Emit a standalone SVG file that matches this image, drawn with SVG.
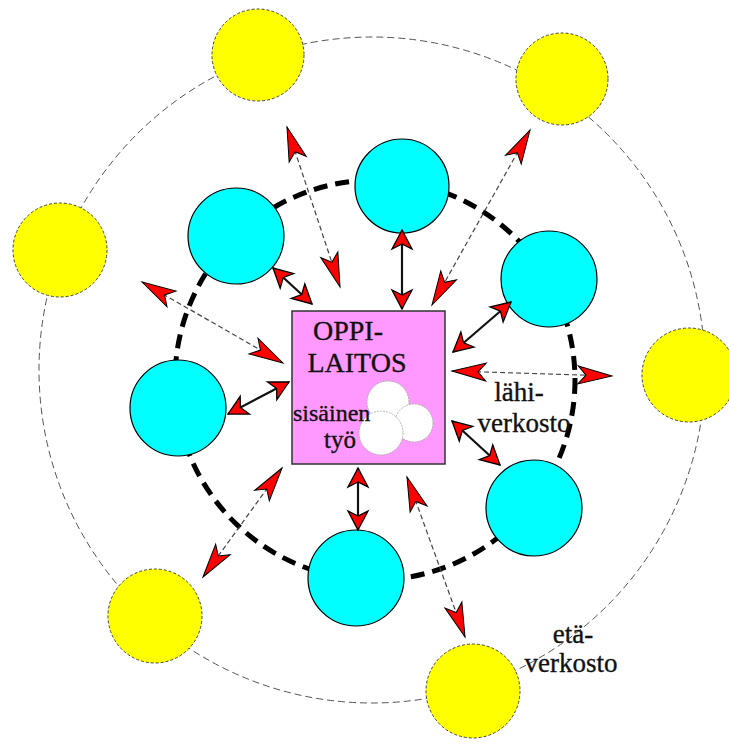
<svg xmlns="http://www.w3.org/2000/svg" width="729" height="747" viewBox="0 0 729 747">
<defs>
<style>
.ring-outer{fill:none;stroke:#555;stroke-width:1;stroke-dasharray:7 4}
.ring-inner{fill:none;stroke:#000;stroke-width:5;stroke-dasharray:14 8}
.yellow{fill:#ffff00;stroke:#444;stroke-width:1;stroke-dasharray:3 2}
.cyan{fill:#00ffff;stroke:#000;stroke-width:1.2}
.box{fill:#ff99ff;stroke:#333;stroke-width:1.5}
.blob{fill:#fff;stroke:#9a9;stroke-width:0.8;stroke-dasharray:2 1}
.txt{font-family:"Liberation Serif","Times New Roman",serif;fill:#111;stroke:#111;stroke-width:0.35}
.solid{stroke:#111;stroke-width:2.2;fill:none;marker-start:url(#hb);marker-end:url(#hb)}
.dash{stroke:#444;stroke-width:1.2;stroke-dasharray:5 3;fill:none;marker-start:url(#hr);marker-end:url(#hr)}
</style>
<marker id="hb" viewBox="-21 -12 23 24" refX="0" refY="0" markerWidth="23" markerHeight="24" markerUnits="userSpaceOnUse" orient="auto-start-reverse">
<path d="M0,0 L-19,-10 L-14,0 L-19,10 Z" fill="#ff0000" stroke="#000" stroke-width="1.3" stroke-dasharray="none"/>
</marker>
<marker id="hr" viewBox="-36 -11 38 22" refX="0" refY="0" markerWidth="38" markerHeight="22" markerUnits="userSpaceOnUse" orient="auto-start-reverse">
<path d="M0,0 L-34,-9 L-26,0 L-34,9 Z" fill="#ff0000" stroke="#000" stroke-width="1" stroke-dasharray="none"/>
</marker>
</defs>
<rect width="729" height="747" fill="#fff"/>
<circle class="ring-outer" cx="372" cy="370" r="333"/>
<circle class="ring-inner" cx="375" cy="380" r="200"/>

<g id="y1"><circle class="yellow" cx="258" cy="55" r="46"/></g>
<g id="y2"><circle class="yellow" cx="562" cy="79" r="46"/></g>
<g id="y3"><circle class="yellow" cx="60" cy="250" r="47"/></g>
<g id="y4"><circle class="yellow" cx="689" cy="375" r="47"/></g>
<g id="y5"><circle class="yellow" cx="155" cy="616" r="47"/></g>
<g id="y6"><circle class="yellow" cx="473" cy="691" r="47"/></g>

<g id="c1"><circle class="cyan" cx="402" cy="186" r="47"/></g>
<g id="c2"><circle class="cyan" cx="236" cy="236" r="48"/></g>
<g id="c3"><circle class="cyan" cx="549" cy="279" r="48"/></g>
<g id="c4"><circle class="cyan" cx="178" cy="408" r="48"/></g>
<g id="c5"><circle class="cyan" cx="534" cy="508" r="48"/></g>
<g id="c6"><circle class="cyan" cx="356" cy="578" r="48"/></g>

<g id="center">
<rect class="box" x="292" y="311" width="153" height="153"/>
<circle class="blob" cx="388" cy="402" r="21"/>
<circle class="blob" cx="414" cy="423" r="19"/>
<circle class="blob" cx="381" cy="433" r="22"/>
<text class="txt" x="348" y="340" font-size="28" text-anchor="middle">OPPI-</text>
<text class="txt" x="357" y="372" font-size="28" text-anchor="middle">LAITOS</text>
<text class="txt" x="293" y="421" font-size="24">sisäinen</text>
<text class="txt" x="340" y="448" font-size="25" text-anchor="middle">työ</text>
</g>

<g id="labels">
<text class="txt" x="519" y="401" font-size="27" text-anchor="middle">lähi-</text>
<text class="txt" x="524" y="432" font-size="27" text-anchor="middle">verkosto</text>
<text class="txt" x="573" y="643" font-size="27" text-anchor="middle">etä-</text>
<text class="txt" x="571" y="672" font-size="27" text-anchor="middle">verkosto</text>
</g>

<g id="connectors">
<line class="solid" x1="402" y1="230" x2="402" y2="309"/>
<line class="solid" x1="273" y1="268" x2="312" y2="304"/>
<line class="solid" x1="228" y1="414" x2="289" y2="382"/>
<line class="solid" x1="511" y1="302" x2="453" y2="352"/>
<line class="solid" x1="452" y1="421" x2="500" y2="465"/>
<line class="solid" x1="358" y1="468" x2="358" y2="530"/>
<line class="dash" x1="287" y1="127" x2="340" y2="287"/>
<line class="dash" x1="142" y1="282" x2="283" y2="363"/>
<line class="dash" x1="530" y1="130" x2="432" y2="305"/>
<line class="dash" x1="452" y1="371" x2="612" y2="376"/>
<line class="dash" x1="282" y1="468" x2="203" y2="577"/>
<line class="dash" x1="407" y1="477" x2="465" y2="637"/>
</g>
</svg>
